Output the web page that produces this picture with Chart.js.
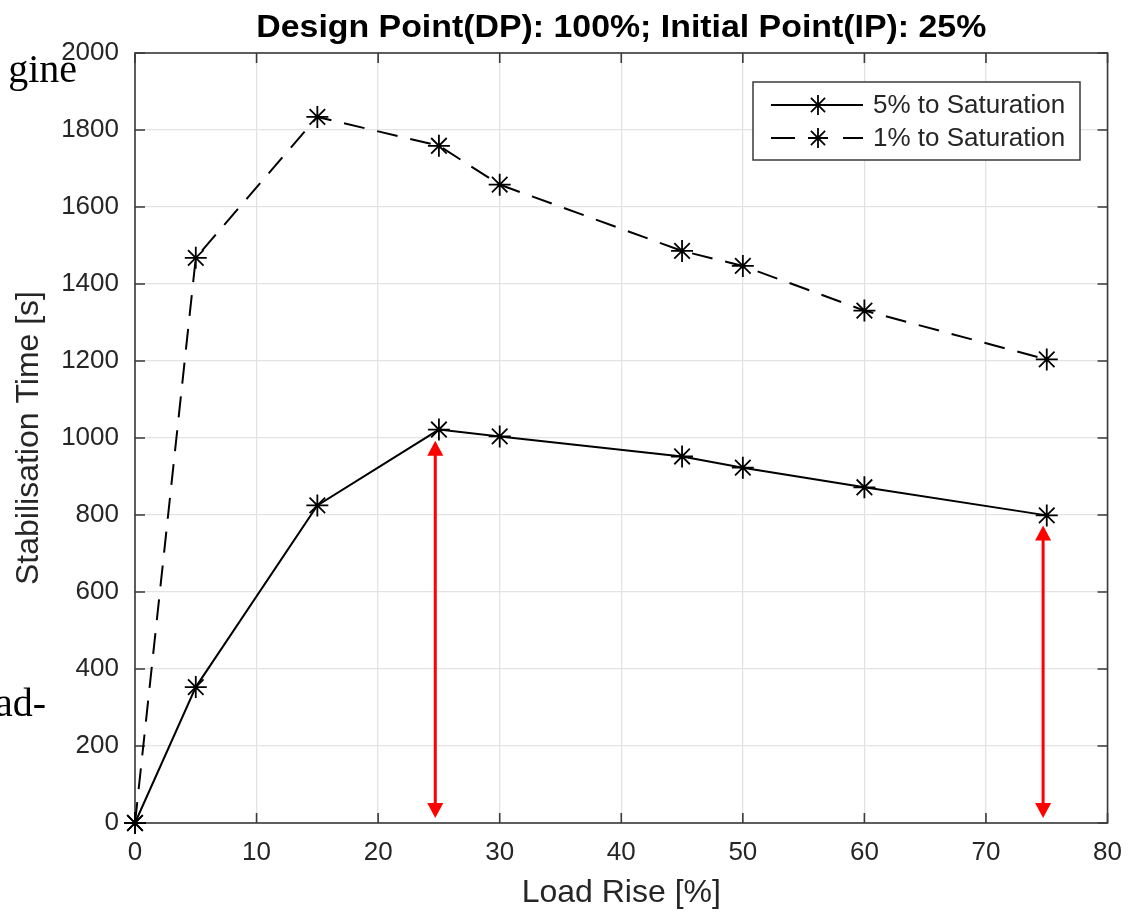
<!DOCTYPE html>
<html>
<head>
<meta charset="utf-8">
<title>Stabilisation Time vs Load Rise</title>
<script src="https://cdn.jsdelivr.net/npm/chart.js@4.4.1/dist/chart.umd.min.js"></script>
<style>
    html, body { margin: 0; padding: 0; background: #ffffff; }
    #wrap { width: 1136px; height: 913px; position: relative; }
</style>
</head>
<body>
<div id="wrap"><canvas id="stabChart" width="1136" height="913"></canvas></div>
<script>
// dados
const loadRise = [0, 5, 15, 25, 30, 45, 50, 60, 75];
const sat5 = [0, 353, 825, 1022, 1004, 952, 923, 872, 799];
const sat1 = [0, 1468, 1834, 1759, 1658, 1486, 1447, 1331, 1204];
const seriesNames = ['5% to Saturation', '1% to Saturation'];
const xTicks = [0, 10, 20, 30, 40, 50, 60, 70, 80];
const yTicks = [0, 200, 400, 600, 800, 1000, 1200, 1400, 1600, 1800, 2000];

// setas vermelhas (x, topo, base)
const arrowX = [24.7, 74.7];
const arrowTop = [993, 773];
const arrowBottom = [13, 13];

const titleText = 'Design Point(DP): 100%; Initial Point(IP): 25%';
const axisColor = '#262626';
const FONT = '"Liberation Sans", Arial, Helvetica, sans-serif';

// moldura, ticks internos, título, legenda e setas
const extrasPlugin = {
    id: 'extras',
    beforeDatasetsDraw(chart) {
        const ctx = chart.ctx;
        const xs = chart.scales.x;
        const ys = chart.scales.y;
        const a = chart.chartArea;
        ctx.save();
        ctx.strokeStyle = '#3a3a3a';
        ctx.lineWidth = 1.6;
        ctx.strokeRect(a.left, a.top, a.right - a.left, a.bottom - a.top);
        // ticks para dentro
        ctx.beginPath();
        xTicks.forEach((v) => {
            const px = xs.getPixelForValue(v);
            ctx.moveTo(px, a.bottom); ctx.lineTo(px, a.bottom - 10);
            ctx.moveTo(px, a.top); ctx.lineTo(px, a.top + 10);
        });
        yTicks.forEach((v) => {
            const py = ys.getPixelForValue(v);
            ctx.moveTo(a.left, py); ctx.lineTo(a.left + 10, py);
            ctx.moveTo(a.right, py); ctx.lineTo(a.right - 10, py);
        });
        ctx.stroke();
        ctx.restore();
    },
    afterDraw(chart) {
        const ctx = chart.ctx;
        const xs = chart.scales.x;
        const ys = chart.scales.y;
        const a = chart.chartArea;
        ctx.save();

        // setas
        ctx.strokeStyle = '#ff0000';
        ctx.fillStyle = '#ff0000';
        ctx.lineWidth = 3;
        arrowX.forEach((xv, i) => {
            const px = xs.getPixelForValue(xv);
            const pt = ys.getPixelForValue(arrowTop[i]);
            const pb = ys.getPixelForValue(arrowBottom[i]);
            ctx.beginPath();
            ctx.moveTo(px, pt + 12);
            ctx.lineTo(px, pb - 12);
            ctx.stroke();
            ctx.beginPath();
            ctx.moveTo(px, pt); ctx.lineTo(px - 8, pt + 15); ctx.lineTo(px + 8, pt + 15);
            ctx.closePath(); ctx.fill();
            ctx.beginPath();
            ctx.moveTo(px, pb); ctx.lineTo(px - 8, pb - 15); ctx.lineTo(px + 8, pb - 15);
            ctx.closePath(); ctx.fill();
        });

        // título (fonte condensada como no original)
        ctx.fillStyle = '#000000';
        ctx.font = 'bold 31px ' + FONT;
        ctx.textAlign = 'center';
        ctx.textBaseline = 'middle';
        const tw = ctx.measureText(titleText).width;
        const cx = (a.left + a.right) / 2;
        ctx.save();
        ctx.translate(cx, 28);
        ctx.scale(730 / tw, 1);
        ctx.fillText(titleText, 0, 0);
        ctx.restore();

        // legenda
        const lx = 753, ly = 82, lw = 327, lh = 78;
        ctx.fillStyle = '#ffffff';
        ctx.fillRect(lx, ly, lw, lh);
        ctx.strokeStyle = '#3a3a3a';
        ctx.lineWidth = 1.5;
        ctx.strokeRect(lx, ly, lw, lh);
        chart.data.datasets.forEach((ds, i) => {
            const rowY = ly + 23 + i * 33;
            ctx.strokeStyle = '#000000';
            ctx.lineWidth = 2;
            ctx.beginPath();
            if (ds.borderDash && ds.borderDash.length) {
                ctx.moveTo(771, rowY); ctx.lineTo(795, rowY);
                ctx.moveTo(843, rowY); ctx.lineTo(863, rowY);
            } else {
                ctx.moveTo(771, rowY); ctx.lineTo(863, rowY);
            }
            ctx.stroke();
            // estrela
            const r = 10;
            ctx.lineWidth = 1.8;
            ctx.beginPath();
            for (let k = 0; k < 4; k++) {
                const ang = k * Math.PI / 4;
                ctx.moveTo(818 + r * Math.cos(ang), rowY + r * Math.sin(ang));
                ctx.lineTo(818 - r * Math.cos(ang), rowY - r * Math.sin(ang));
            }
            ctx.stroke();
            ctx.fillStyle = axisColor;
            ctx.font = '26px ' + FONT;
            ctx.textAlign = 'left';
            ctx.textBaseline = 'middle';
            ctx.fillText(ds.label, 873, rowY + 1);
        });

        // texto do documento atrás da figura
        ctx.fillStyle = '#000000';
        ctx.font = '40px "Liberation Serif", "DejaVu Serif", serif';
        ctx.textAlign = 'right';
        ctx.textBaseline = 'alphabetic';
        ctx.fillText('gine', 77, 82);
        ctx.fillText('ad-', 46, 716);
        ctx.restore();
    }
};

const ctx = document.getElementById('stabChart').getContext('2d');
const stabChart = new Chart(ctx, {
    type: 'line',
    data: {
        datasets: [
            {
                label: seriesNames[0],
                data: loadRise.map((x, i) => ({ x: x, y: sat5[i] })),
                borderColor: '#000000',
                borderWidth: 2,
                pointStyle: 'star',
                pointRadius: 11,
                pointBorderWidth: 1.8,
                pointBorderColor: '#000000',
                pointBackgroundColor: '#000000',
                tension: 0,
                fill: false,
                clip: false
            },
            {
                label: seriesNames[1],
                data: loadRise.map((x, i) => ({ x: x, y: sat1[i] })),
                borderColor: '#000000',
                borderWidth: 2,
                borderDash: [21, 13],
                pointStyle: 'star',
                pointRadius: 11,
                pointBorderWidth: 1.8,
                pointBorderColor: '#000000',
                pointBackgroundColor: '#000000',
                tension: 0,
                fill: false,
                clip: false
            }
        ]
    },
    options: {
        responsive: false,
        animation: false,
        layout: {
            padding: { left: 0, right: 28, top: 53, bottom: 0 }
        },
        plugins: {
            legend: { display: false },
            title: { display: false },
            tooltip: { enabled: false }
        },
        scales: {
            x: {
                type: 'linear',
                min: 0,
                max: 80,
                afterBuildTicks: (scale) => { scale.ticks = xTicks.map((v) => ({ value: v })); },
                afterFit: (scale) => { scale.height = 90; },
                grid: { color: '#e3e3e3', lineWidth: 1.3, drawTicks: false },
                border: { display: false },
                ticks: {
                    color: axisColor,
                    padding: 14,
                    maxRotation: 0,
                    font: { family: FONT, size: 26 },
                    callback: (v) => String(v)
                },
                title: {
                    display: true,
                    text: 'Load Rise [%]',
                    color: axisColor,
                    padding: { top: 0, bottom: 1 },
                    font: { family: FONT, size: 32 }
                }
            },
            y: {
                type: 'linear',
                min: 0,
                max: 2000,
                afterBuildTicks: (scale) => { scale.ticks = yTicks.map((v) => ({ value: v })); },
                afterFit: (scale) => { scale.width = 135; },
                grid: { color: '#e3e3e3', lineWidth: 1.3, drawTicks: false },
                border: { display: false },
                ticks: {
                    color: axisColor,
                    padding: 16,
                    font: { family: FONT, size: 26 },
                    callback: (v) => String(v)
                },
                title: {
                    display: true,
                    text: 'Stabilisation Time [s]',
                    color: axisColor,
                    padding: { top: 10, bottom: 0 },
                    font: { family: FONT, size: 32 }
                }
            }
        }
    },
    plugins: [extrasPlugin]
});
</script>
</body>
</html>
